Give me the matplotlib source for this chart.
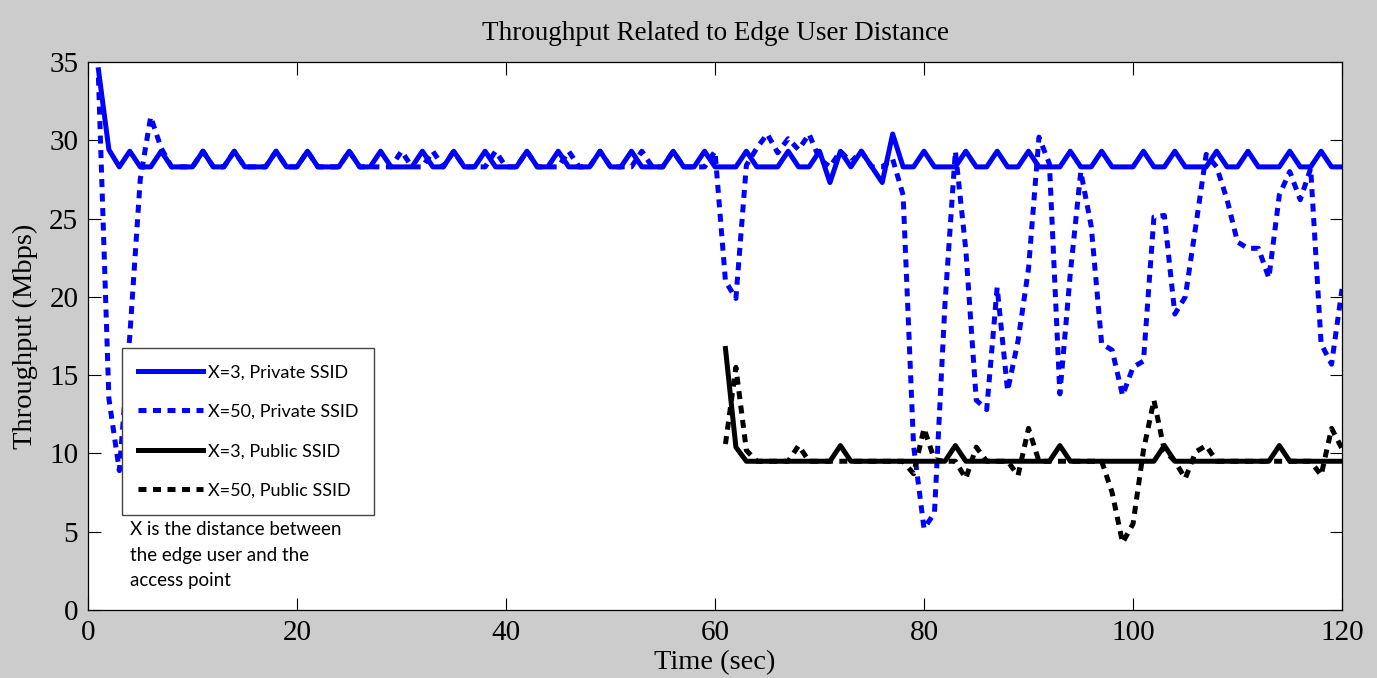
import matplotlib
matplotlib.use('Agg')
import matplotlib.pyplot as plt

# time axis (sec)
t_private = list(range(1, 121))
t_public = list(range(61, 121))

# X=3, Private SSID
private_x3 = [34.5, 29.4, 28.3, 29.3, 28.3, 28.3, 29.3, 28.3, 28.3, 28.3,
              29.3, 28.3, 28.3, 29.3, 28.3, 28.3, 28.3, 29.3, 28.3, 28.3,
              29.3, 28.3, 28.3, 28.3, 29.3, 28.3, 28.3, 29.3, 28.3, 28.3,
              28.3, 29.3, 28.3, 28.3, 29.3, 28.3, 28.3, 29.3, 28.3, 28.3,
              28.3, 29.3, 28.3, 28.3, 29.3, 28.3, 28.3, 28.3, 29.3, 28.3,
              28.3, 29.3, 28.3, 28.3, 28.3, 29.3, 28.3, 28.3, 29.3, 28.3,
              28.3, 28.3, 29.3, 28.3, 28.3, 28.3, 29.3, 28.3, 28.3, 29.3,
              27.3, 29.3, 28.3, 29.3, 28.3, 27.3, 30.4, 28.3, 28.3, 29.3,
              28.3, 28.3, 28.3, 29.3, 28.3, 28.3, 29.3, 28.3, 28.3, 29.3,
              28.3, 28.3, 28.3, 29.3, 28.3, 28.3, 29.3, 28.3, 28.3, 28.3,
              29.3, 28.3, 28.3, 29.3, 28.3, 28.3, 28.3, 29.3, 28.3, 28.3,
              29.3, 28.3, 28.3, 28.3, 29.3, 28.3, 28.3, 29.3, 28.3, 28.3]

# X=50, Private SSID
private_x50 = [34.0, 13.5, 8.9, 17.5, 27.5, 31.5, 29.5, 28.3, 28.3, 28.3,
               29.3, 28.3, 28.3, 29.3, 28.3, 28.3, 28.3, 29.3, 28.3, 28.3,
               29.3, 28.3, 28.3, 28.3, 29.3, 28.3, 28.3, 28.3, 28.3, 29.3,
               28.3, 28.3, 29.3, 28.3, 29.3, 28.3, 28.3, 28.3, 29.3, 28.3,
               28.3, 29.3, 28.3, 28.3, 28.3, 29.3, 28.3, 28.3, 29.3, 28.3,
               28.3, 28.3, 29.3, 28.3, 28.3, 29.3, 28.3, 28.3, 28.3, 29.3,
               21.0, 19.9, 28.4, 29.5, 30.4, 29.2, 30.1, 29.4, 30.4, 28.8,
               28.3, 29.3, 28.6, 29.3, 28.3, 28.3, 28.8, 26.5, 10.5, 5.2,
               6.2, 19.5, 29.3, 23.0, 13.4, 12.8, 20.6, 14.0, 17.2, 21.8,
               30.2, 28.5, 13.8, 21.5, 28.0, 24.5, 17.0, 16.6, 13.7, 15.5,
               15.9, 25.1, 25.2, 18.9, 20.0, 24.5, 29.1, 28.3, 26.2, 23.5,
               23.1, 23.1, 21.2, 26.5, 28.0, 26.2, 28.2, 17.0, 15.7, 20.5]

# X=3, Public SSID
public_x3 = [16.7, 10.4, 9.5, 9.5, 9.5, 9.5, 9.5, 9.5, 9.5, 9.5,
             9.5, 10.5, 9.5, 9.5, 9.5, 9.5, 9.5, 9.5, 9.5, 9.5,
             9.5, 9.5, 10.5, 9.5, 9.5, 9.5, 9.5, 9.5, 9.5, 9.5,
             9.5, 9.5, 10.5, 9.5, 9.5, 9.5, 9.5, 9.5, 9.5, 9.5,
             9.5, 9.5, 10.5, 9.5, 9.5, 9.5, 9.5, 9.5, 9.5, 9.5,
             9.5, 9.5, 9.5, 10.5, 9.5, 9.5, 9.5, 9.5, 9.5, 9.5]

# X=50, Public SSID
public_x50 = [10.6, 15.5, 10.2, 9.5, 9.5, 9.5, 9.5, 10.5, 9.5, 9.5,
              9.5, 9.5, 9.5, 9.5, 9.5, 9.5, 9.5, 9.5, 8.7, 11.6,
              9.6, 9.5, 9.5, 8.4, 10.4, 9.5, 9.5, 9.5, 8.6, 11.6,
              9.5, 9.5, 9.5, 9.5, 9.5, 9.5, 9.5, 7.5, 4.3, 5.5,
              10.2, 13.4, 10.2, 9.5, 8.4, 10.1, 10.5, 9.5, 9.5, 9.5,
              9.5, 9.5, 9.5, 9.5, 9.5, 9.5, 9.5, 8.6, 11.6, 10.3]

labels = ['X=3, Private SSID', 'X=50, Private SSID',
          'X=3, Public SSID', 'X=50, Public SSID']
note = 'X is the distance between\nthe edge user and the\naccess point'

SERIF = 'Liberation Serif'
SANS = 'Lato'
LW = 3.6
DASH = (0, (1.6, 1.3))

fig = plt.figure(figsize=(13.77, 6.78), dpi=100, facecolor='#cccccc')
ax = fig.add_axes([0.0639, 0.1003, 0.9107, 0.8083])
ax.set_facecolor('white')

ax.plot(t_private, private_x3, color='#0000ff', lw=LW, label=labels[0])
ax.plot(t_private, private_x50, color='#0000ff', lw=LW, linestyle=DASH,
        dash_capstyle='butt', label=labels[1])
ax.plot(t_public, public_x3, color='black', lw=LW, label=labels[2])
ax.plot(t_public, public_x50, color='black', lw=LW, linestyle=DASH,
        dash_capstyle='butt', label=labels[3])

ax.set_xlim(0, 120)
ax.set_ylim(0, 35)
ax.set_xticks(range(0, 121, 20))
ax.set_yticks(range(0, 36, 5))
ax.tick_params(direction='in', length=9, width=0.8, top=True, right=True,
               labelsize=21, pad=7)
for lab in ax.get_xticklabels() + ax.get_yticklabels():
    lab.set_family(SERIF)
for sp in ax.spines.values():
    sp.set_linewidth(0.9)

ax.set_title('Throughput Related to Edge User Distance', family=SERIF,
             fontsize=19.5, pad=16)
ax.set_xlabel('Time (sec)', family=SERIF, fontsize=20.5, labelpad=3)
ax.set_ylabel('Throughput (Mbps)', family=SERIF, fontsize=20.5, labelpad=8)

leg = ax.legend(loc='upper left', bbox_to_anchor=(0.027, 0.478),
                borderaxespad=0, prop={'family': SANS, 'size': 13},
                handlelength=3.6, handletextpad=0.25, labelspacing=1.3,
                fancybox=False, framealpha=1, edgecolor='#444444',
                borderpad=0.9)
leg.get_frame().set_linewidth(1.0)

ax.text(0.0335, 0.162, note, transform=ax.transAxes, ha='left', va='top',
        family=SANS, fontsize=13.5, linespacing=1.6)

fig.savefig('out.png', dpi=100, facecolor=fig.get_facecolor())
